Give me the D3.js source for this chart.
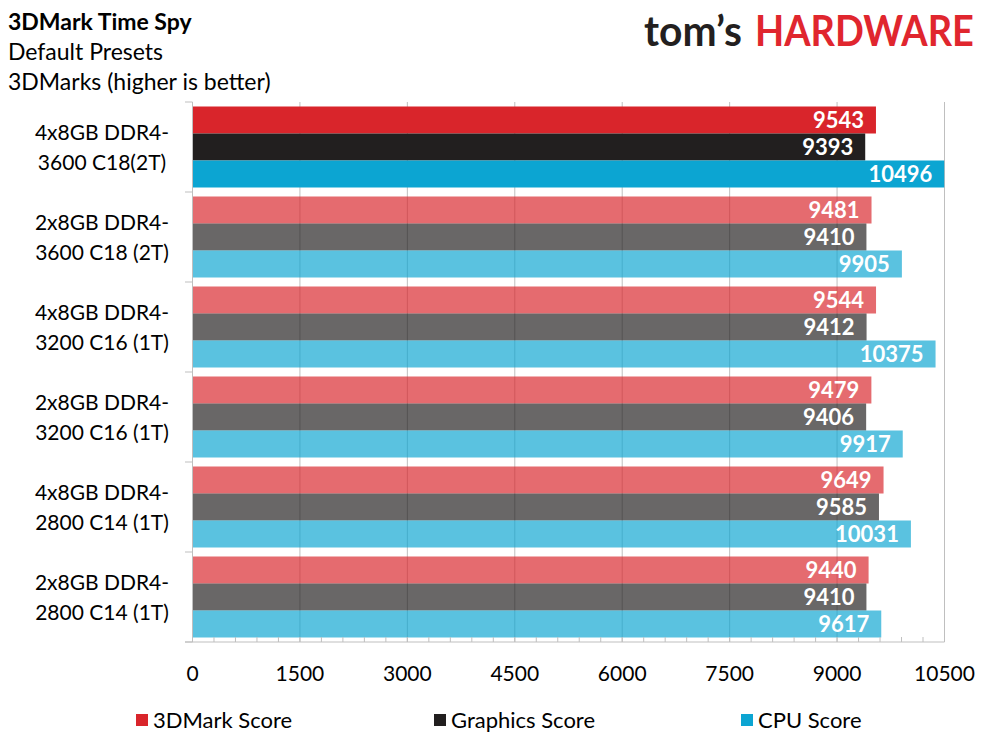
<!DOCTYPE html>
<html>
<head>
<meta charset="utf-8">
<script src="https://cdn.jsdelivr.net/npm/d3@7"></script>
<style>
  html, body { margin: 0; padding: 0; background: #fff; }
  svg { display: block; font-family: Lato, "Open Sans", sans-serif; }
</style>
</head>
<body>
<div id="chart"></div>
<script>
// chart data
const categories = [
  ["4x8GB DDR4-", "3600 C18(2T)"],
  ["2x8GB DDR4-", "3600 C18 (2T)"],
  ["4x8GB DDR4-", "3200 C16 (1T)"],
  ["2x8GB DDR4-", "3200 C16 (1T)"],
  ["4x8GB DDR4-", "2800 C14 (1T)"],
  ["2x8GB DDR4-", "2800 C14 (1T)"]
];
const seriesNames = ["3DMark Score", "Graphics Score", "CPU Score"];
const markScore = [9543, 9481, 9544, 9479, 9649, 9440];
const graphicsScore = [9393, 9410, 9412, 9406, 9585, 9410];
const cpuScore = [10496, 9905, 10375, 9917, 10031, 9617];
const xTicks = [0, 1500, 3000, 4500, 6000, 7500, 9000, 10500];
const titleLines = ["3DMark Time Spy", "Default Presets", "3DMarks (higher is better)"];

const width = 989, height = 742;
const colors = ["#d9252b", "#221f1f", "#0ca5d2"];

const svg = d3.select("#chart").append("svg")
  .attr("width", width)
  .attr("height", height);

const x = d3.scaleLinear().domain([0, 10500]).range([192.5, 944.5]);
const y = d3.scaleBand().domain(d3.range(categories.length)).range([102, 642]);
const yInner = d3.scaleBand().domain(d3.range(3)).range([4.5, 85.5]);

const rows = categories.map((c, i) => ({
  label: c,
  values: [markScore[i], graphicsScore[i], cpuScore[i]]
}));

// gridlines
svg.append("g")
  .selectAll("line")
  .data(xTicks.slice(1))
  .join("line")
  .attr("x1", d => x(d)).attr("x2", d => x(d))
  .attr("y1", 102).attr("y2", 642)
  .attr("stroke", "#bfbfbf")
  .attr("stroke-width", 1);

// bars
const groups = svg.append("g")
  .selectAll("g")
  .data(rows)
  .join("g")
  .attr("transform", (d, i) => "translate(0," + y(i) + ")");

groups.selectAll("rect")
  .data((d, i) => d.values.map((v, j) => ({ v: v, j: j, first: i == 0 })))
  .join("rect")
  .attr("x", x(0))
  .attr("y", d => yInner(d.j))
  .attr("width", d => x(d.v) - x(0))
  .attr("height", yInner.bandwidth())
  .attr("fill", d => colors[d.j])
  .attr("fill-opacity", d => d.first ? 1 : 0.68);

groups.selectAll("text.val")
  .data(d => d.values.map((v, j) => ({ v: v, j: j })))
  .join("text")
  .attr("class", "val")
  .attr("x", d => x(d.v) - 12)
  .attr("y", d => yInner(d.j) + yInner.bandwidth() / 2)
  .attr("dy", "0.36em")
  .attr("text-anchor", "end")
  .attr("fill", "#fff")
  .attr("font-weight", "bold")
  .attr("font-size", 22)
  .text(d => d.v);

// bottom axis line + inner minor ticks
svg.append("line")
  .attr("x1", 185).attr("x2", 944.5)
  .attr("y1", 642).attr("y2", 642)
  .attr("stroke", "#bfbfbf");

svg.append("g")
  .selectAll("line")
  .data(d3.range(0, 10501, 300))
  .join("line")
  .attr("x1", d => x(d)).attr("x2", d => x(d))
  .attr("y1", 637).attr("y2", 642)
  .attr("stroke", "#bfbfbf");

// left axis
svg.append("line")
  .attr("x1", x(0)).attr("x2", x(0))
  .attr("y1", 102).attr("y2", 642)
  .attr("stroke", "#bfbfbf");

svg.append("g")
  .selectAll("line")
  .data(d3.range(categories.length + 1))
  .join("line")
  .attr("x1", 185).attr("x2", x(0))
  .attr("y1", d => 102 + d * y.bandwidth())
  .attr("y2", d => 102 + d * y.bandwidth())
  .attr("stroke", "#bfbfbf");

// x tick labels
svg.append("g")
  .selectAll("text")
  .data(xTicks)
  .join("text")
  .attr("x", d => x(d))
  .attr("y", 681)
  .attr("text-anchor", "middle")
  .attr("font-size", 21)
  .attr("fill", "#000")
  .text(d => d);

// category labels
const catLabels = svg.append("g")
  .selectAll("text")
  .data(rows)
  .join("text")
  .attr("text-anchor", "middle")
  .attr("font-size", 21)
  .attr("fill", "#000");

catLabels.selectAll("tspan")
  .data((d, i) => d.label.map((t, k) => ({ t: t, k: k, i: i })))
  .join("tspan")
  .attr("x", 102)
  .attr("y", d => y(d.i) + y.bandwidth() / 2 + (d.k == 0 ? -15 : 15))
  .attr("dy", "0.36em")
  .text(d => d.t);

// title
svg.append("g")
  .selectAll("text")
  .data(titleLines)
  .join("text")
  .attr("x", 8)
  .attr("y", (d, i) => 29.5 + i * 30.3)
  .attr("font-size", 23)
  .attr("font-weight", (d, i) => i == 0 ? "bold" : "normal")
  .attr("fill", "#000")
  .text(d => d);

// logo: two words squeezed to the reference widths
const logoParts = [
  { t: "tom’s", x: 644, w: 98, c: "#231f20" },
  { t: "HARDWARE", x: 755, w: 219, c: "#e0262e" }
];
svg.append("g")
  .selectAll("text")
  .data(logoParts)
  .join("text")
  .attr("font-size", 42)
  .attr("font-weight", "bold")
  .attr("fill", d => d.c)
  .text(d => d.t)
  .attr("transform", function (d) {
    const len = this.getComputedTextLength();
    return "translate(" + d.x + ",46) scale(" + (d.w / len) + ",1)";
  });

// legend
const legendX = [136, 434, 741];
const legend = svg.append("g")
  .selectAll("g")
  .data(seriesNames)
  .join("g")
  .attr("transform", (d, i) => "translate(" + legendX[i] + ",714)");

legend.append("rect")
  .attr("width", 12).attr("height", 12)
  .attr("fill", (d, i) => colors[i]);

legend.append("text")
  .attr("x", 17)
  .attr("y", 6)
  .attr("dy", "0.36em")
  .attr("font-size", 22)
  .attr("fill", "#000")
  .text(d => d);
</script>
</body>
</html>
